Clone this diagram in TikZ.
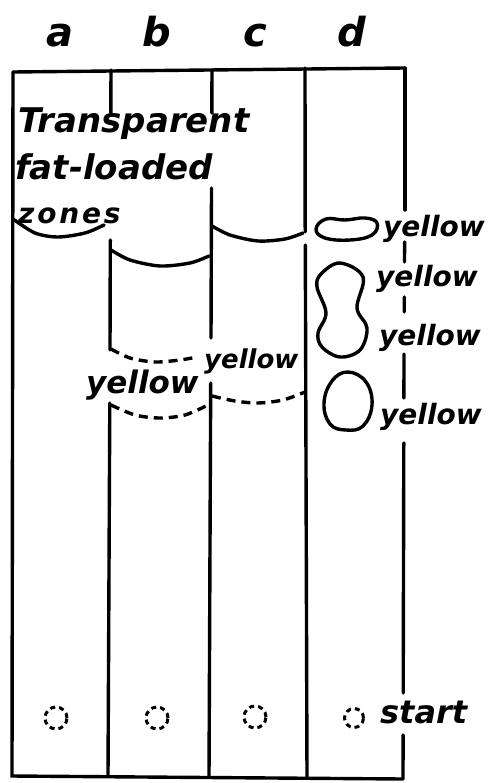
\documentclass[tikz,border=0pt]{standalone}
\usepackage{fontspec}
\newfontfamily\hand{DejaVu Sans}
\newcommand\handfont[2]{\hand\bfseries\itshape\fontsize{#1}{#1}\selectfont\addfontfeature{LetterSpace=#2}}
\begin{document}
\begin{tikzpicture}[x=1pt,y=-1pt,
  frame/.style={line width=3.4pt, line cap=round},
  zone/.style={line width=3.4pt, line cap=round},
  zonedash/.style={line width=3.4pt, dash pattern=on 9pt off 6pt},
  spot/.style={line width=3.4pt},
  origin/.style={line width=3pt, dash pattern=on 5pt off 4pt},
  lbl/.style={inner sep=0pt, anchor=base west}
]
\useasboundingbox (0,0) rectangle (492,783);
% frame
\draw[frame] (13,72) -- (405,68);
\draw[frame] (13,72) -- (12,776) -- (403,779);
% right border, broken by labels
\draw[frame] (405,68) -- (405,210);
\draw[frame] (404.6,242) -- (404.5,262);
\draw[frame] (404.3,297) -- (404.2,312);
\draw[frame] (404,354) -- (403.9,398);
\draw[frame] (403.8,443) -- (403.2,693);
\draw[frame] (403.1,735) -- (403,779);
% column b
\draw[frame] (111,70) -- (110.8,113);
\draw[frame] (110.3,240) -- (110,350);
\draw[frame] (109.8,403) -- (108,776);
% column c
\draw[frame] (212,70) -- (211.8,113);
\draw[frame] (211.5,188) -- (211,338);
\draw[frame] (210.7,383) -- (209,777);
% column d
\draw[frame] (305,68) -- (305.2,232);
\draw[frame] (305.3,245) -- (307,778);

% texts
\node[lbl, font=\handfont{40}{0}, anchor=base] (la) at (60,47) {a};
\node[lbl, font=\handfont{40}{0}, anchor=base] (lb) at (157,47) {b};
\node[lbl, font=\handfont{40}{0}, anchor=base] (lc) at (255,47) {c};
\node[lbl, font=\handfont{40}{0}, anchor=base] (ld) at (352,47) {d};
\node[lbl, font=\handfont{34}{0}] (t1) at (18,133) {Transparent};
\node[lbl, font=\handfont{34}{0}] (t2) at (15,180) {fat-loaded};
\node[lbl, font=\handfont{28}{10}] (t3) at (18,224) {zones};
\node[lbl, font=\handfont{31}{0}] (yb) at (86,393) {yellow};
\node[lbl, font=\handfont{26}{0}] (yc) at (204,368) {yellow};
\node[lbl, font=\handfont{28}{0}] (yd1) at (383,237) {yellow};
\node[lbl, font=\handfont{28}{0}] (yd2) at (376,287) {yellow};
\node[lbl, font=\handfont{28}{0}] (yd3) at (379,345) {yellow};
\node[lbl, font=\handfont{28}{0}] (yd4) at (380,424) {yellow};
\node[lbl, font=\handfont{32}{0}] (st) at (380,723) {start};

% zone boundaries
\draw[zone] plot[smooth] coordinates {(13,219) (35,233) (58,237) (85,233) (104,225)};
\draw[zone] plot[smooth] coordinates {(111,250) (130,260) (160,266) (190,263) (209,256)};
\draw[zone] plot[smooth] coordinates {(212,226) (230,235) (258,241) (285,239) (303,233)};
\draw[zonedash] plot[smooth] coordinates {(111,349) (130,358) (155,362) (180,360) (197,357)};
\draw[zonedash] plot[smooth] coordinates {(111,405) (135,415) (160,418) (185,415) (208,405)};
\draw[zonedash] plot[smooth] coordinates {(212,396) (235,401) (258,403) (283,400) (305,392)};

% spots in d
\draw[spot] plot[smooth cycle, tension=0.7] coordinates {(316,229) (326,219) (345,220) (365,218) (377,223) (372,235) (350,240) (325,238)};
\draw[spot] plot[smooth cycle, tension=0.6] coordinates {(340,263) (363,277) (357,308) (367,328) (360,350) (340,357) (322,347) (318,333) (326,313) (317,287) (321,274)};
\draw[spot] plot[smooth cycle, tension=0.7] coordinates {(348,372) (366,382) (372,405) (363,426) (346,430) (330,424) (324,403) (332,381)};

% origins
\draw[origin] (56,718) circle[radius=11pt];
\draw[origin] (157,718) circle[radius=11pt];
\draw[origin] (255,717) circle[radius=11pt];
\draw[origin] (354,718) circle[radius=9.5pt];
\end{tikzpicture}
\end{document}
